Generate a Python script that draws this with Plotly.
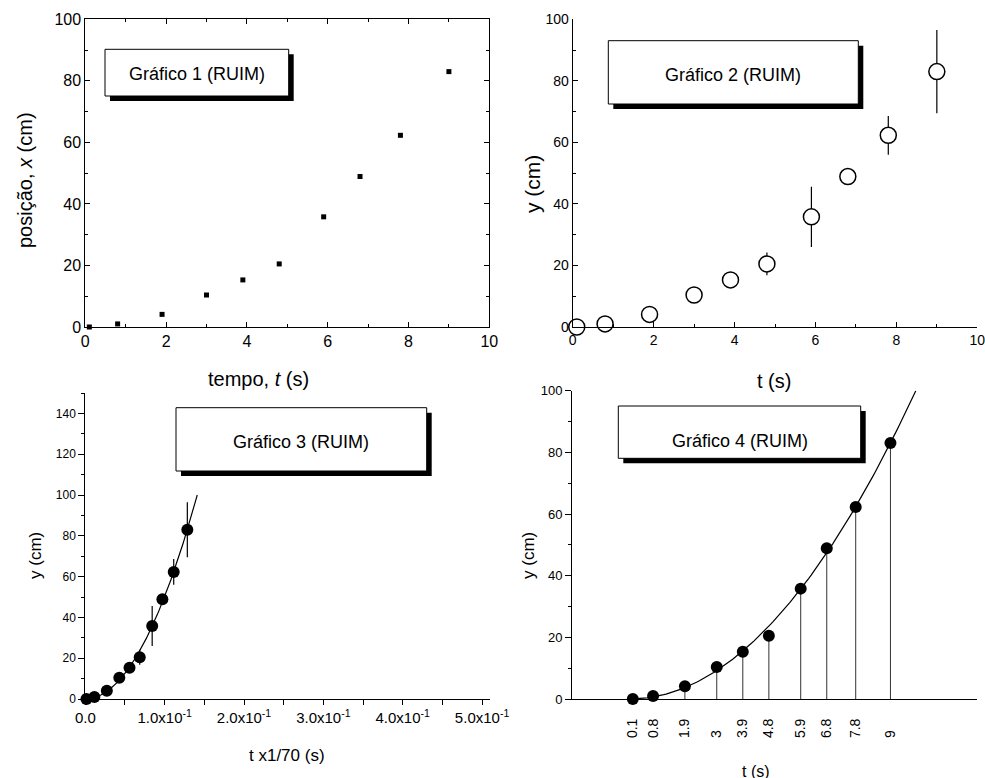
import numpy as np
import plotly.graph_objects as go

# ---- data ----
t = [0.1, 0.8, 1.9, 3.0, 3.9, 4.8, 5.9, 6.8, 7.8, 9.0]
y = [0.0, 1.0, 4.1, 10.4, 15.3, 20.5, 35.8, 48.9, 62.3, 83.0]
y_err = [0.5, 0.5, 0.6, 1.0, 1.5, 3.7, 9.8, 2.0, 6.3, 13.5]
t_scale = 70.0  # panel 3: t x 1/70
t_labels4 = ["0.1", "0.8", "1.9", "3", "3.9", "4.8", "5.9", "6.8", "7.8", "9"]
x3_tickvals = [0.0, 0.1, 0.2, 0.3, 0.4, 0.5]
x3_ticktext = ["0.0", "1.0x10<sup>-1</sup>", "2.0x10<sup>-1</sup>", "3.0x10<sup>-1</sup>",
               "4.0x10<sup>-1</sup>", "5.0x10<sup>-1</sup>"]
titles = ["Gráfico 1 (RUIM)", "Gráfico 2 (RUIM)", "Gráfico 3 (RUIM)", "Gráfico 4 (RUIM)"]

# quadratic fit y = a t^2 (least squares)
tt = np.array(t); yy = np.array(y)
a = float(np.sum(yy * tt**2) / np.sum(tt**4))
t_end = np.sqrt(100.0 / a)
t_fit3 = np.linspace(0, t_end, 120)
t_fit4 = np.linspace(0.1, t_end, 120)

OFF = 0  # body margin removed below
W, H = 985, 778
FONT = "Arial, Liberation Sans, sans-serif"
fig = go.Figure()

# Panel 1
fig.add_trace(go.Scatter(x=t, y=y, mode="markers", xaxis="x", yaxis="y",
                         marker=dict(symbol="square", size=5, color="black"),
                         cliponaxis=False, showlegend=False))
# Panel 2
fig.add_trace(go.Scatter(x=t, y=y, mode="markers", xaxis="x2", yaxis="y2",
                         marker=dict(symbol="circle", size=16, color="white",
                                     line=dict(color="black", width=1.5)),
                         error_y=dict(type="data", array=y_err, width=0, thickness=1.2, color="black"),
                         cliponaxis=False, showlegend=False))
# Panel 3
fig.add_trace(go.Scatter(x=t_fit3 / t_scale, y=a * t_fit3**2, mode="lines", xaxis="x3", yaxis="y3",
                         line=dict(color="black", width=1.2), showlegend=False))
fig.add_trace(go.Scatter(x=[v / t_scale for v in t], y=y, mode="markers", xaxis="x3", yaxis="y3",
                         marker=dict(symbol="circle", size=12, color="black"),
                         error_y=dict(type="data", array=y_err, width=0, thickness=1.2, color="black"),
                         cliponaxis=False, showlegend=False))
# Panel 4
fig.add_trace(go.Scatter(x=t_fit4, y=a * t_fit4**2, mode="lines", xaxis="x4", yaxis="y4",
                         line=dict(color="black", width=1.2), showlegend=False))
fig.add_trace(go.Scatter(x=t, y=y, mode="markers", xaxis="x4", yaxis="y4",
                         marker=dict(symbol="circle", size=12, color="black"),
                         error_y=dict(type="data", symmetric=False, array=[0] * len(y), arrayminus=y,
                                      width=0, thickness=1, color="#333"),
                         cliponaxis=False, showlegend=False))

def px(v):
    return (v - OFF) / W

def py(v):
    return 1 - (v - OFF) / H

def domx(p0, p1):
    return [px(p0), px(p1)]

def domy(top, bottom):
    return [py(bottom), py(top)]

# pad short labels with no-break spaces so that rotated labels line up at their start
def pad(s):
    w = {".": 0.278}
    em = sum(w.get(c, 0.556) for c in s)
    n = int(round((1.39 - em) / 0.278))
    return s + "\u00a0" * max(n, 0)

base = dict(showline=True, linecolor="black", linewidth=1, showgrid=False, zeroline=False,
            tickcolor="black", automargin=False, ticklabeloverflow="allow")

layout = dict(
    width=W, height=H, margin=dict(l=0, r=0, t=0, b=0, autoexpand=False),
    paper_bgcolor="white", plot_bgcolor="white",
    font=dict(family=FONT, color="black"),
    hovermode=False,
    xaxis=dict(base, domain=domx(85.3, 489.3), anchor="y", range=[0, 10], dtick=2,
               ticks="inside", ticklen=5, mirror="ticks", tickfont=dict(family=FONT, size=16),
               minor=dict(dtick=1, ticks="inside", ticklen=3, tickcolor="black")),
    yaxis=dict(base, domain=domy(19.3, 327), anchor="x", range=[0, 100], dtick=20,
               ticks="inside", ticklen=5, mirror="ticks", tickfont=dict(family=FONT, size=16),
               minor=dict(dtick=10, ticks="inside", ticklen=3, tickcolor="black")),
    xaxis2=dict(base, domain=domx(572.7, 977.3), anchor="y2", range=[0, 10], dtick=2,
                ticks="inside", ticklen=5, tickfont=dict(family=FONT, size=14),
                minor=dict(dtick=1, ticks="inside", ticklen=3, tickcolor="black")),
    yaxis2=dict(base, domain=domy(19.3, 327), anchor="x2", range=[0, 100], dtick=20,
                ticks="inside", ticklen=5, tickfont=dict(family=FONT, size=14),
                minor=dict(dtick=10, ticks="inside", ticklen=3, tickcolor="black")),
    xaxis3=dict(base, domain=domx(85.3, 490), anchor="y3", range=[0, 0.51],
                tickvals=x3_tickvals, ticktext=x3_ticktext,
                ticks="outside", ticklen=5, tickfont=dict(family=FONT, size=15),
                minor=dict(dtick=0.05, tick0=0, ticks="outside", ticklen=5, tickcolor="black")),
    yaxis3=dict(base, domain=domy(393, 699), anchor="x3", range=[0, 150],
                tickvals=[0, 20, 40, 60, 80, 100, 120, 140],
                ticks="outside", ticklen=6, tickfont=dict(family=FONT, size=12),
                minor=dict(dtick=10, tick0=0, ticks="outside", ticklen=3, tickcolor="black")),
    xaxis4=dict(base, domain=domx(572, 977.3), anchor="y4", range=[-2, 12],
                tickvals=t, ticktext=[pad(s) for s in t_labels4], tickangle=-90,
                ticks="", ticklabelstandoff=13, tickfont=dict(family=FONT, size=14)),
    yaxis4=dict(base, domain=domy(390.7, 699), anchor="x4", range=[0, 100], dtick=20,
                ticks="outside", ticklen=6, tickfont=dict(family=FONT, size=13),
                minor=dict(dtick=10, ticks="outside", ticklen=3, tickcolor="black")),
)

# axis titles placed as paper annotations: (text, x_px, y_px, size, angle)
axis_titles = [
    ("tempo, <i>t</i> (s)", 258, 379, 20, 0),
    ("posição, <i>x</i> (cm)", 25, 180, 20, -90),
    ("t (s)", 774, 381, 20, 0),
    ("y (cm)", 532, 184, 21, -90),
    ("t x1/70 (s)", 287, 755, 17, 0),
    ("y (cm)", 35, 556, 17, -90),
    ("t (s)", 756, 771, 16, 0),
    ("y (cm)", 528, 556, 17, -90),
]

boxes = [  # (left, top, right, bottom, text_y) in screen pixels
    (105, 49.3, 288.7, 96, 74),
    (608.3, 40.7, 858.3, 104, 75),
    (176, 407.7, 426.7, 471, 441.5),
    (618.3, 406, 860.7, 458.3, 441),
]
shapes, annotations = [], []
for (l, tp, r, b, ty), txt in zip(boxes, titles):
    shapes.append(dict(type="rect", xref="paper", yref="paper", layer="above",
                       x0=px(l + 5), x1=px(r + 5), y0=py(b + 5), y1=py(tp + 5),
                       fillcolor="black", line=dict(width=0)))
    shapes.append(dict(type="rect", xref="paper", yref="paper", layer="above",
                       x0=px(l), x1=px(r), y0=py(b), y1=py(tp),
                       fillcolor="white", line=dict(color="black", width=1)))
    annotations.append(dict(text=txt, xref="paper", yref="paper", x=px((l + r) / 2), y=py(ty),
                            xanchor="center", yanchor="middle", showarrow=False,
                            font=dict(family=FONT, size=18, color="black")))
for txt, xp, yp, sz, ang in axis_titles:
    annotations.append(dict(text=txt, xref="paper", yref="paper", x=px(xp), y=py(yp),
                            xanchor="center", yanchor="middle", showarrow=False, textangle=ang,
                            font=dict(family=FONT, size=sz, color="black")))
layout["shapes"] = shapes
layout["annotations"] = annotations
fig.update_layout(**layout)
fig.write_html("out.html", config={"displayModeBar": False},
               post_script="document.body.style.margin='0';document.body.style.overflow='hidden';")
